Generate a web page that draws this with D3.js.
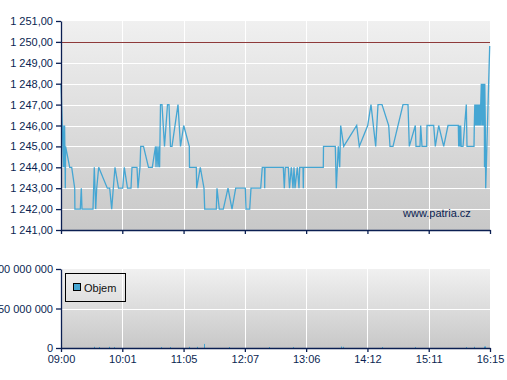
<!DOCTYPE html>
<html><head><meta charset="utf-8">
<script src="https://cdn.jsdelivr.net/npm/d3@7"></script>
<style>
html,body{margin:0;padding:0;background:#fff;}
svg{display:block;font-family:"Liberation Sans",Arial,sans-serif;}
</style></head>
<body>
<svg id="c" width="507" height="380"></svg>
<script>
// ---- data ----
// trade sequence number (x) and trade price
const tradeNo = [0,2.5,2.8,3.2,3.6,4.0,4.3,4.6,8.7,10.7,13.7,13.9,19.3,20.3,21,32,33.3,34.7,35.7,37.7,46.3,48.7,50.7,52.3,54,57.5,61.7,63.3,66.5,70,71,76,77,79,79.7,82.5,87.5,91.3,94.5,95,96,97,98,98.6,
99.5,101,103.5,106.5,108,109.5,111,117,119.5,122.7,128.3,128.5,135.3,135.7,139.3,143,143.7,155.3,156,158.3,162.3,167,171,174.7,184.3,185,188.7,190,199.7,201.3,203.5,203.7,204,222.3,223.3,224.3,227.3,228.5,230.3,232,233,234,236.3,238,238.7,242,242.3,242.6,
262.3,262.5,274.3,275.3,277.3,278.7,279.7,282.7,295.7,298.3,306.7,310,314.7,317,321,327.7,329,332,342,347,348.3,354.3,355,359,359.7,361,365.7,366,372.7,374.3,377.7,382.7,387,397.3,397.7,398.1,398.5,398.9,399.3,399.7,400.2,400.7,402,405.3,406,413,
413.3,413.8,414.3,414.8,415.3,415.8,416.3,416.8,417.3,417.8,418.3,418.8,419.3,419.7,
420.3,420.8,421.3,421.8,422.3,422.8,423.3,423.5,423.8,424.3,424.7,428.7];
const price = [1248,1244,1246,1244,1246,1244.5,1243,1245,1244,1244,1243,1242,1242,1243,1242,1242,1244,1242,1243,1244,1243,1243,1242,1243,1244,1243,1243,1244,1243,1243,1244,1244,1243,1244,1245,1245,1244,1244,1245,1244,1245,1244,1245,1244,
1247,1247,1245,1247,1247,1245,1245,1247,1245,1246,1245,1244,1244,1243,1244,1243,1242,1242,1243,1242,1242,1243,1242,1243,1243,1242,1242,1243,1243,1244,1244,1243,1244,1244,1243,1244,1244,1243,1244,1243,1244,1243,1244,1243,1244,1244,1243,1244,
1244,1245,1245,1243,1245,1244,1246,1245,1246,1245,1246,1247,1245,1247,1247,1246,1245,1245,1247,1247,1245,1246,1245,1245,1246,1245,1245,1246,1246,1245,1246,1245,1246,1246,1245,1246,1245,1246,1245,1246,1245,1245,1245,1247,1245,1245,
1246,1247,1246,1247,1246,1247,1246,1247,1246,1247,1246,1247,1246,1247,
1248,1246,1248,1246,1248,1246,1248,1244,1248,1246,1243,1249.8];

// volume bars
const volNo = [33.3,38.3,48.3,53.3,99.7,109,128.3,135.7,143.3,167.7,207.7,231.7,279.7,281.7,321.3,354.3,405,413,423,424];
const volume = [1500000,1200000,1500000,1200000,1200000,1200000,1500000,1500000,5200000,1200000,1200000,1200000,1800000,1500000,1200000,1200000,1200000,1500000,1800000,2000000];

const xTickLabels = ["09:00","10:01","11:05","12:07","13:06","14:12","15:11","16:15"];
const priceTicks = [1241,1242,1243,1244,1245,1246,1247,1248,1249,1250,1251];
const volTicks = [0,50000000,100000000];
const limitPrice = 1250;
const tradeCount = 429;

// ---- drawing ----
const svg = d3.select("#c");
const navy = "#0b1f52";
const lineCol = "#45a6d3";
const L = 61, R = 490;
const mainTop = 21, mainBot = 230;
const volTop = 269, volBot = 348;

const x = d3.scaleLinear().domain([0, tradeCount]).range([L, R]);
const y = d3.scaleLinear().domain([1241, 1251]).range([mainBot, mainTop]);
const yv = d3.scaleLinear().domain([0, 100000000]).range([volBot, volTop]);

const loc = d3.formatLocale({decimal: ",", thousands: " ", grouping: [3], currency: ["", ""]});
const fPrice = loc.format(",.2f");
const fVol = loc.format(",d");
const xTickVals = xTickLabels.map((d, i) => tradeCount * i / (xTickLabels.length - 1));

const defs = svg.append("defs");
const g1 = defs.append("linearGradient").attr("id", "bg").attr("x1", 0).attr("y1", 0).attr("x2", 0).attr("y2", 1);
g1.append("stop").attr("offset", "0%").attr("stop-color", "#f0f0f0");
g1.append("stop").attr("offset", "100%").attr("stop-color", "#c8c8c8");

function panel(top, bot) {
  svg.append("rect").attr("x", L).attr("y", top).attr("width", R - L).attr("height", bot - top).attr("fill", "url(#bg)");
}
panel(mainTop, mainBot);
panel(volTop, volBot);

// grid main
const gm = svg.append("g").attr("shape-rendering", "crispEdges");
gm.selectAll("line.h").data(priceTicks.filter(d => d > 1241 && d < 1251 && d !== limitPrice)).join("line")
  .attr("x1", L).attr("x2", R).attr("y1", d => Math.round(y(d)) + 0.5).attr("y2", d => Math.round(y(d)) + 0.5)
  .attr("stroke", "#fff").attr("stroke-width", 1.2);
gm.selectAll("line.v").data(xTickVals.slice(1)).join("line")
  .attr("x1", d => Math.round(x(d)) + 0.5).attr("x2", d => Math.round(x(d)) + 0.5).attr("y1", mainTop).attr("y2", mainBot)
  .attr("stroke", "#fff").attr("stroke-width", 1.2);
gm.append("line").attr("x1", L).attr("x2", R).attr("y1", Math.round(y(limitPrice)) + 0.5).attr("y2", Math.round(y(limitPrice)) + 0.5)
  .attr("stroke", "#8e3a3a").attr("stroke-width", 1);

// grid volume
const gv = svg.append("g").attr("shape-rendering", "crispEdges");
gv.selectAll("line.h").data(volTicks.filter(d => d > 0 && d < 100000000)).join("line")
  .attr("x1", L).attr("x2", R).attr("y1", d => Math.round(yv(d)) + 0.5).attr("y2", d => Math.round(yv(d)) + 0.5)
  .attr("stroke", "#fff").attr("stroke-width", 1.2);
gv.selectAll("line.v").data(xTickVals.slice(1)).join("line")
  .attr("x1", d => Math.round(x(d)) + 0.5).attr("x2", d => Math.round(x(d)) + 0.5).attr("y1", volTop).attr("y2", volBot)
  .attr("stroke", "#fff").attr("stroke-width", 1.2);

// watermark
svg.append("text").attr("x", 403).attr("y", 217).attr("font-size", 11).attr("fill", navy).text("www.patria.cz");

// price line
const pts = tradeNo.map((d, i) => [d, price[i]]);
svg.append("path").datum(pts)
  .attr("d", d3.line().x(d => x(d[0])).y(d => y(d[1])))
  .attr("fill", "none").attr("stroke", lineCol).attr("stroke-width", 1.3).attr("stroke-linejoin", "miter");

// volume bars
svg.append("g").selectAll("line").data(volNo.map((d, i) => [d, volume[i]])).join("line")
  .attr("x1", d => Math.round(x(d[0])) + 0.5).attr("x2", d => Math.round(x(d[0])) + 0.5)
  .attr("y1", yv(0)).attr("y2", d => yv(d[1]))
  .attr("stroke", lineCol).attr("stroke-width", 1);

// axes
function styleAxis(g) {
  g.attr("font-family", "Liberation Sans, Arial, sans-serif").attr("font-size", 11);
  g.selectAll(".domain").attr("stroke", navy).attr("stroke-width", 1.3);
  g.selectAll(".tick line").attr("stroke", navy).attr("stroke-width", 1.3);
  g.selectAll(".tick text").attr("fill", navy);
}
const ay = svg.append("g").attr("transform", `translate(${L},0)`)
  .call(d3.axisLeft(y).tickValues(priceTicks).tickFormat(fPrice).tickSize(5).tickSizeOuter(0).tickPadding(3));
styleAxis(ay);
const axm = svg.append("g").attr("transform", `translate(0,${mainBot})`)
  .call(d3.axisBottom(x).tickValues(xTickVals).tickFormat("").tickSize(4).tickSizeOuter(0));
styleAxis(axm);
const ayv = svg.append("g").attr("transform", `translate(${L},0)`)
  .call(d3.axisLeft(yv).tickValues(volTicks).tickFormat(fVol).tickSize(5).tickSizeOuter(0).tickPadding(3));
styleAxis(ayv);
const axv = svg.append("g").attr("transform", `translate(0,${volBot})`)
  .call(d3.axisBottom(x).tickValues(xTickVals).tickFormat((d, i) => xTickLabels[i]).tickSize(4).tickSizeOuter(0).tickPadding(3));
styleAxis(axv);

// legend
const lg = svg.append("g").attr("shape-rendering", "crispEdges");
lg.append("rect").attr("x", 65.5).attr("y", 273.5).attr("width", 60).attr("height", 28).attr("fill", "none").attr("stroke", "#000");
lg.append("rect").attr("x", 73.5).attr("y", 283.5).attr("width", 7).attr("height", 7).attr("fill", lineCol).attr("stroke", "#000");
svg.append("text").attr("x", 84).attr("y", 292).attr("font-size", 11).attr("fill", "#111").text("Objem");
</script>
</body></html>
